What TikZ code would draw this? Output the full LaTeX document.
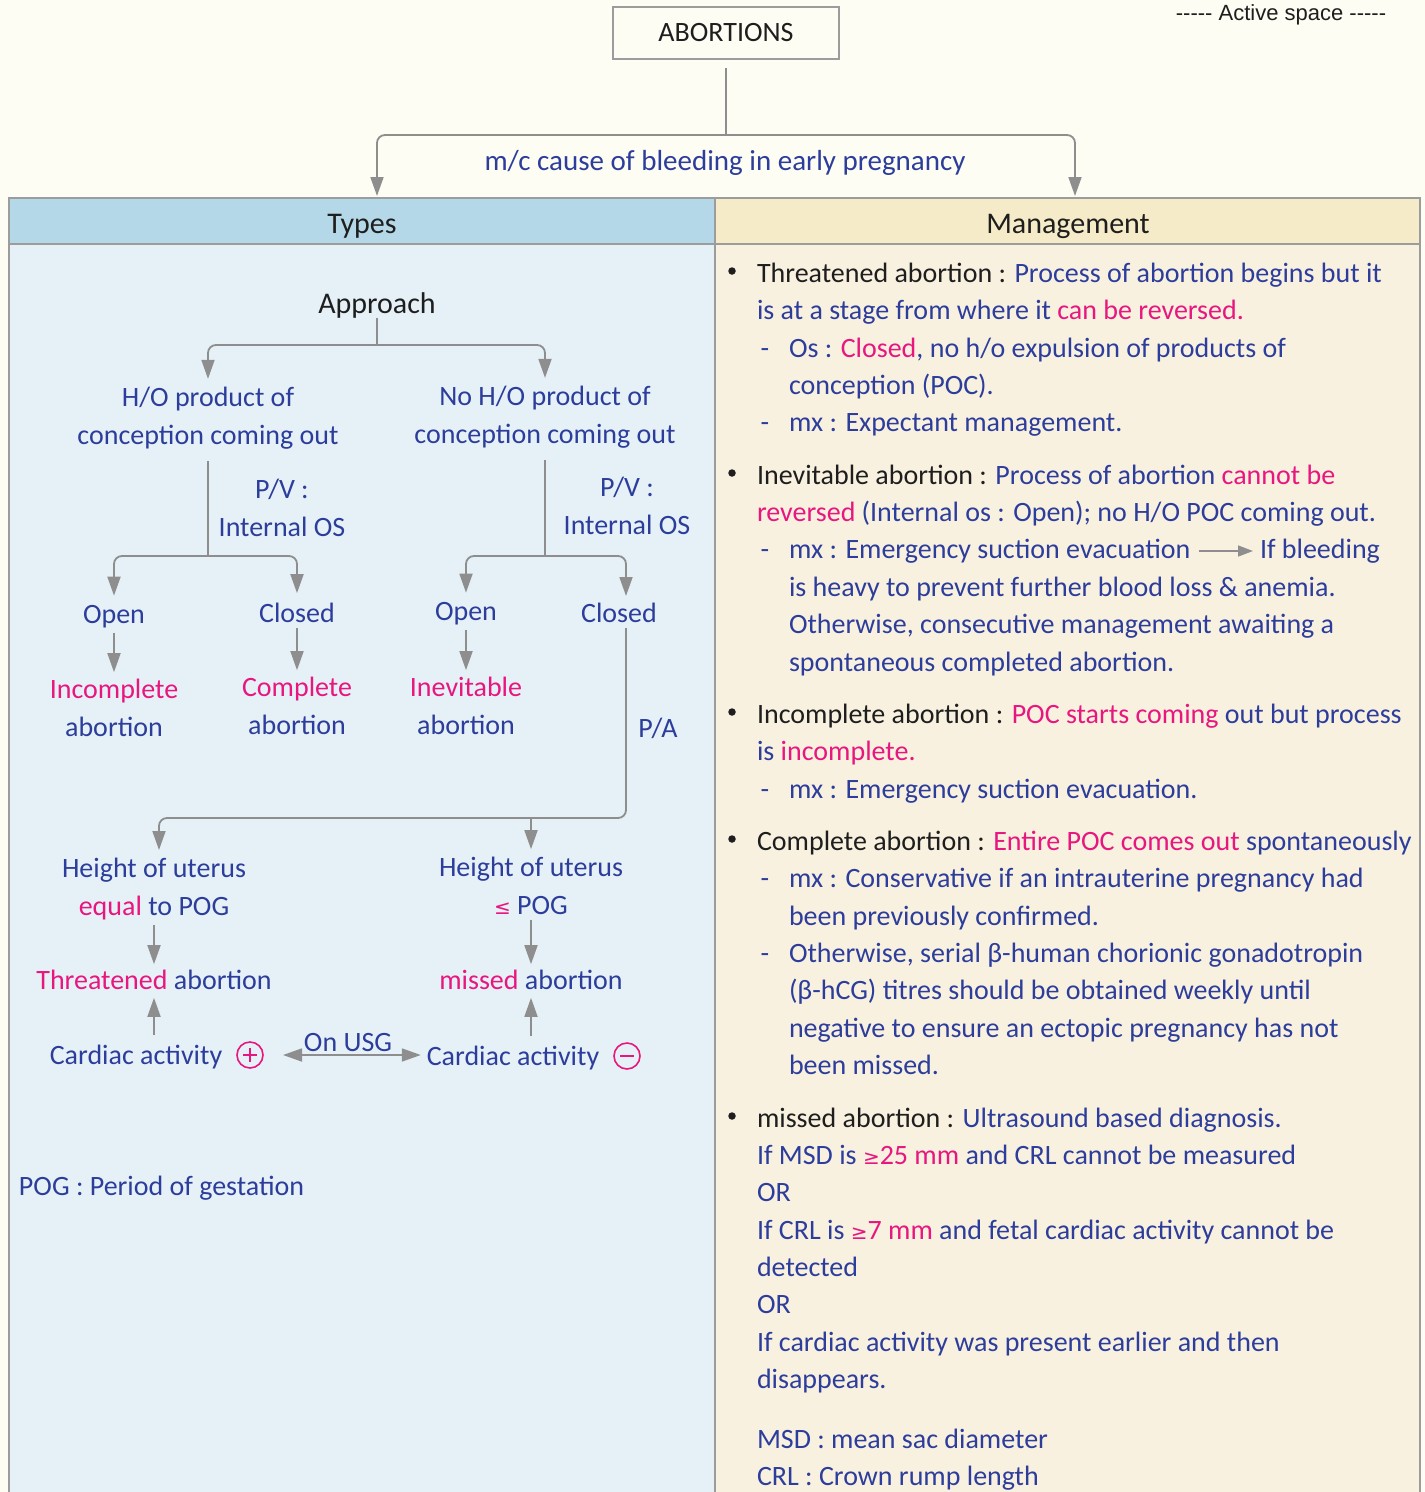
\documentclass[tikz,border=0pt]{standalone}
\usepackage{fontspec}
\setmainfont{Carlito}
\newfontfamily\arialfont{Liberation Sans}
\newfontfamily\symfont{DejaVu Sans}
\usetikzlibrary{arrows.meta}
\definecolor{bg}{HTML}{FDFDF3}
\definecolor{typehead}{HTML}{B4D8E7}
\definecolor{typebody}{HTML}{E6F1F7}
\definecolor{mghead}{HTML}{F5EBC8}
\definecolor{mgbody}{HTML}{F9F1E0}
\definecolor{frame}{HTML}{9C9C9C}
\definecolor{ink}{HTML}{2C3D9B}
\definecolor{hot}{HTML}{E8167F}
\definecolor{blk}{HTML}{1E1E1E}
\definecolor{conn}{HTML}{8E8E8E}
\newcommand{\hl}[1]{{\color{hot}#1}}
\newcommand{\bk}[1]{{\color{blk}#1}}
\newcommand{\gesym}{{\symfont\fontsize{20}{20}\selectfont ≥}}
\newcommand{\lesym}{{\symfont\fontsize{20}{20}\selectfont ≤}}
\begin{document}
\begin{tikzpicture}[x=1pt,y=-1pt,
  every node/.style={inner sep=0pt,outer sep=0pt},
  hw/.style={text=ink,font=\fontsize{28}{38}\selectfont,align=center},
  hb/.style={text=blk,font=\fontsize{30}{36}\selectfont},
  rl/.style={text=ink,font=\fontsize{28}{34}\selectfont,anchor=base west},
  dsh/.style={text=ink,font=\fontsize{28}{34}\selectfont,anchor=base},
  dot/.style={circle,fill=blk,minimum size=7.5pt},
  conn/.style={draw=conn,line width=1.8pt},
  tip/.tip={Triangle[length=19pt,width=13pt]},
  arr/.style={conn,-tip},
  darr/.style={conn,tip-tip},
  circ/.style={circle,draw=hot,line width=1.6pt,minimum size=26pt},
  sign/.style={draw=hot,line width=1.6pt},
]
\fill[bg] (0,0) rectangle (1425,1492);
\useasboundingbox (0,0) rectangle (1425,1492);

% table
\fill[typehead] (9,198) rectangle (715,244);
\fill[typebody] (9,244) rectangle (715,1492);
\fill[mghead] (715,198) rectangle (1420,244);
\fill[mgbody] (715,244) rectangle (1420,1492);
\draw[frame,line width=2pt] (9,1492) -- (9,198) -- (1420,198) -- (1420,1492);
\draw[frame,line width=2pt] (9,244) -- (1420,244);
\draw[frame,line width=2pt] (715,198) -- (715,1492);
\node[hb] (typesH) at (362,226) {Types};
\node[hb] (mgmtH) at (1068,226) {Management};

% top
\node[draw=frame,line width=2pt,minimum width=226pt,minimum height=52pt,text=blk,font=\fontsize{28}{30}\selectfont] (abort) at (726,33) {ABORTIONS};
\node[text=blk,font=\arialfont\fontsize{22}{26}\selectfont] (active) at (1281,15) {----- Active space -----};
\node[hw,font=\fontsize{29}{34}\selectfont] (cause) at (725,163) {m/c cause of bleeding in early pregnancy};
\coordinate (topj) at (726,135);
\coordinate (tA) at (377,196);
\coordinate (tB) at (1075,196);
\draw[conn] ([yshift=-9pt]abort.south) -- (topj);
\draw[arr,rounded corners=8pt] (topj) -| (tA);
\draw[arr,rounded corners=8pt] (topj) -| (tB);

% Types column
\node[hb] (appr) at (377,305) {Approach};
\node[hw] (hpoc) at (208,418) {H/O product of\\conception coming out};
\node[hw] (npoc) at (545,417) {No H/O product of\\conception coming out};
\coordinate (aj) at (377,345);
\draw[conn] (appr.south) -- (aj);
\draw[arr,rounded corners=8pt] (aj) -| ([yshift=8pt]hpoc.north);
\draw[arr,rounded corners=8pt] (aj) -| ([yshift=8pt]npoc.north);

\node[hw] (pv1) at (282,508) {P/V :\\Internal OS};
\node[hw] (pv2) at (627,506) {P/V :\\Internal OS};

\node[hw] (open1) at (114,617) {Open};
\node[hw] (closed1) at (297,613) {Closed};
\node[hw] (open2) at (466,614) {Open};
\node[hw] (closed2) at (619,613) {Closed};

\coordinate (j1) at (208,556);
\coordinate (j2) at (545,556);
\coordinate (c2top) at (626,596);
\coordinate (c2bot) at (626,628);
\draw[conn] ([yshift=-12pt]hpoc.south) -- (j1);
\draw[arr,rounded corners=8pt] (j1) -| ([yshift=10pt]open1.north);
\draw[arr,rounded corners=8pt] (j1) -| ([yshift=10pt]closed1.north);
\draw[conn] ([yshift=-12pt]npoc.south) -- (j2);
\draw[arr,rounded corners=8pt] (j2) -| ([yshift=10pt]open2.north);
\draw[arr,rounded corners=8pt] (j2) -| (c2top);

\node[hw] (inc) at (114,708) {\hl{Incomplete}\\abortion};
\node[hw] (comp) at (297,706) {\hl{Complete}\\abortion};
\node[hw] (inev) at (466,706) {\hl{Inevitable}\\abortion};
\draw[arr,shorten <=5pt,shorten >=7pt] (open1.south) -- (inc.north);
\draw[arr,shorten <=5pt,shorten >=7pt] (closed1.south) -- (comp.north);
\draw[arr,shorten <=5pt,shorten >=7pt] (open2.south) -- (inev.north);

\node[hw] (pa) at (658,728) {P/A};

\node[hw] (h1) at (154,889) {Height of uterus\\\hl{equal} to POG};
\node[hw] (h2) at (531,886) {Height of uterus\\\hl{\lesym} POG};
\coordinate (pj) at (531,818);
\coordinate (h1top) at (159,850);
\draw[arr,rounded corners=8pt] (c2bot) |- (pj) -| (h1top);
\draw[arr] (pj) -- ([yshift=8pt]h2.north);

\node[hw] (thr) at (154,980) {\hl{Threatened} abortion};
\node[hw] (mis) at (531,980) {\hl{missed} abortion};
\draw[arr,shorten <=5pt,shorten >=6pt] (h1.south) -- (h1.south |- thr.north);
\draw[arr,shorten <=5pt,shorten >=6pt] (h2.south) -- (h2.south |- mis.north);

\node[hw] (card1) at (136,1057) {Cardiac activity};
\node[circ] (pos) at (250,1055) {};
\draw[sign] ([xshift=-7pt]pos.center) -- ([xshift=7pt]pos.center);
\draw[sign] ([yshift=-7pt]pos.center) -- ([yshift=7pt]pos.center);
\node[hw] (card2) at (513,1058) {Cardiac activity};
\node[circ] (neg) at (627,1056) {};
\draw[sign] ([xshift=-7pt]neg.center) -- ([xshift=7pt]neg.center);
\draw[arr,shorten <=10pt,shorten >=8pt] (thr.south |- card1.north) -- (thr.south);
\draw[arr,shorten <=10pt,shorten >=8pt] (mis.south |- card2.north) -- (mis.south);
\draw[darr,shorten <=20pt,shorten >=6pt] (pos.east) -- (card2.west |- pos.east);
\node[hw] (usg) at (348,1043) {On USG};

\node[hw,anchor=west] (pog) at (19,1188) {POG : Period of gestation};

% Management column
\node[dot] (b1) at (732,271) {};
\node[rl] (r1) at (757,282) {\bk{Threatened abortion :} Process of abortion begins but it};
\node[rl] (r2) at (757,319) {is at a stage from where it \hl{can be reversed.}};
\node[dsh] (d3) at (765,357) {-};
\node[rl] (r3) at (789,357) {Os : \hl{Closed}, no h/o expulsion of products of};
\node[rl] (r4) at (789,394) {conception (POC).};
\node[dsh] (d5) at (765,431) {-};
\node[rl] (r5) at (789,431) {mx : Expectant management.};

\node[dot] (b6) at (732,473) {};
\node[rl] (r6) at (757,484) {\bk{Inevitable abortion :} Process of abortion \hl{cannot be}};
\node[rl] (r7) at (757,521) {\hl{reversed} (Internal os : Open); no H/O POC coming out.};
\node[dsh] (d8) at (765,558) {-};
\node[rl] (r8a) at (789,558) {mx : Emergency suction evacuation};
\node[rl] (r8b) at (1260,558) {If bleeding};
\draw[conn,line width=1.5pt,-{Triangle[length=15pt,width=11pt]},shorten <=9pt,shorten >=7pt] ([yshift=7pt]r8a.base east) -- ([yshift=7pt]r8b.base west);
\node[rl] (r9) at (789,596) {is heavy to prevent further blood loss \& anemia.};
\node[rl] (r10) at (789,633) {Otherwise, consecutive management awaiting a};
\node[rl] (r11) at (789,671) {spontaneous completed abortion.};

\node[dot] (b12) at (732,712) {};
\node[rl] (r12) at (757,723) {\bk{Incomplete abortion :} \hl{POC starts coming} out but process};
\node[rl] (r13) at (757,760) {is \hl{incomplete.}};
\node[dsh] (d14) at (765,798) {-};
\node[rl] (r14) at (789,798) {mx : Emergency suction evacuation.};

\node[dot] (b15) at (732,839) {};
\node[rl] (r15) at (757,850) {\bk{Complete abortion :} \hl{Entire POC comes out} spontaneously};
\node[dsh] (d16) at (765,887) {-};
\node[rl] (r16) at (789,887) {mx : Conservative if an intrauterine pregnancy had};
\node[rl] (r17) at (789,925) {been previously confirmed.};
\node[dsh] (d18) at (765,962) {-};
\node[rl] (r18) at (789,962) {Otherwise, serial β-human chorionic gonadotropin};
\node[rl] (r19) at (789,999) {(β-hCG) titres should be obtained weekly until};
\node[rl] (r20) at (789,1037) {negative to ensure an ectopic pregnancy has not};
\node[rl] (r21) at (789,1074) {been missed.};

\node[dot] (b22) at (732,1116) {};
\node[rl] (r22) at (757,1127) {\bk{missed abortion :} Ultrasound based diagnosis.};
\node[rl] (r23) at (757,1164) {If MSD is \hl{\gesym25 mm} and CRL cannot be measured};
\node[rl] (r24) at (757,1201) {OR};
\node[rl] (r25) at (757,1239) {If CRL is \hl{\gesym7 mm} and fetal cardiac activity cannot be};
\node[rl] (r26) at (757,1276) {detected};
\node[rl] (r27) at (757,1313) {OR};
\node[rl] (r28) at (757,1351) {If cardiac activity was present earlier and then};
\node[rl] (r29) at (757,1388) {disappears.};
\node[rl] (r30) at (757,1448) {MSD : mean sac diameter};
\node[rl] (r31) at (757,1485) {CRL : Crown rump length};
\end{tikzpicture}
\end{document}
